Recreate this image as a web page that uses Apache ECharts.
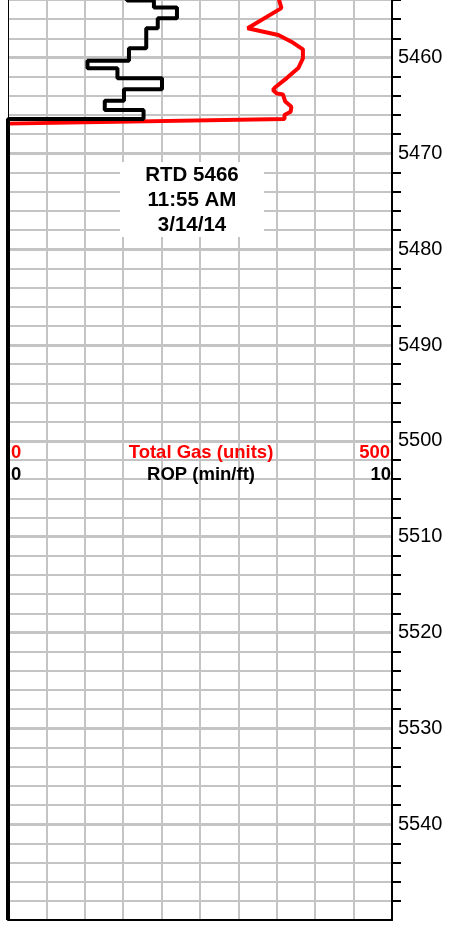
<!DOCTYPE html>
<html><head><meta charset="utf-8">
<script src="https://cdn.jsdelivr.net/npm/echarts@6/dist/echarts.min.js"></script>
<style>html,body{margin:0;padding:0;background:#fff}#c{width:456px;height:925px}</style>
</head><body><div id="c"></div>
<script>
// Depth axis extent (the log continues above the visible crop at 5454 ft)
const depthMin = 5450;
const depthMax = 5550;
const depthMajor = 10;

// ROP (min/ft): top depth of each interval and its value
const ropTop = [5453.0, 5454.05, 5454.77, 5455.9, 5456.96, 5459.04, 5460.33, 5461.13, 5462.17, 5463.32, 5464.5, 5465.48, 5466.42];
const ropVal = [3.1, 3.8, 4.4, 3.9, 3.6, 3.15, 2.07, 2.85, 4.01, 3.02, 2.52, 3.53, 0];

// Total gas (units)
const gasDepth = [5453.5, 5454.0, 5454.85, 5456.95, 5457.65, 5458.35, 5459.15, 5460.1, 5461.1, 5462.15, 5463.1, 5463.4, 5463.75, 5463.85, 5464.6, 5465.15, 5465.65, 5466.0, 5466.42, 5466.9, 5550];
const gasVal   = [350, 353, 356, 312, 352, 369, 384, 384, 378, 363, 348, 345, 350, 358, 361, 369, 368, 360, 360, 0, 0];

const ropRange = [0, 10];
const gasRange = [0, 500];
const rtdLines = ['RTD 5466', '11:55 AM', '3/14/14'];
const gasLabels = ['0', 'Total Gas (units)', '500'];
const ropLabels = ['0', 'ROP (min/ft)', '10'];

// step vertices for ROP
const ropData = [];
ropTop.forEach((d, i) => {
  const next = i + 1 < ropTop.length ? ropTop[i + 1] : depthMax;
  ropData.push([ropVal[i], d]);
  ropData.push([ropVal[i], next]);
});
const gasData = gasVal.map((g, i) => [g, gasDepth[i]]);

const FONT = '"Liberation Sans", Arial, Helvetica, sans-serif';
const chart = echarts.init(document.getElementById('c'), null, {renderer: 'canvas'});
const pxPerFt = 920 / (depthMax - 5454);
const gridTop = -(5454 - depthMin) * pxPerFt;
const gridH = (depthMax - depthMin) * pxPerFt;
const GRID = '#c4c4c4';
const LBL = 'bold 18.5px ' + FONT;

chart.setOption({
  animation: false,
  backgroundColor: '#fff',
  grid: {left: 8, width: 384, top: gridTop, height: gridH, containLabel: false, outerBoundsMode: 'none'},
  xAxis: [
    {type: 'value', min: ropRange[0], max: ropRange[1], interval: 1, position: 'bottom',
     axisLine: {show: true, onZero: false, lineStyle: {color: '#000', width: 2}},
     axisTick: {show: false}, axisLabel: {show: false},
     splitLine: {show: true, showMinLine: false, showMaxLine: false, lineStyle: {color: GRID, width: 2}}},
    {type: 'value', min: gasRange[0], max: gasRange[1], show: false,
     splitLine: {show: false}}
  ],
  yAxis: [
    {type: 'value', inverse: true, min: depthMin, max: depthMax, interval: depthMajor, position: 'right',
     axisLine: {show: true, onZero: false, lineStyle: {color: '#000', width: 2}},
     axisTick: {show: false},
     minorTick: {show: true, splitNumber: 5, length: 9, lineStyle: {color: '#000', width: 2}},
     axisLabel: {show: true, color: '#000', fontSize: 20, fontFamily: FONT, margin: 6, showMinLabel: false, showMaxLabel: false,
       formatter: v => String(v)},
     splitLine: {show: true, showMinLine: false, showMaxLine: false, lineStyle: {color: GRID, width: 3}},
     minorSplitLine: {show: true, lineStyle: {color: GRID, width: 2}}},
    {type: 'value', inverse: true, min: depthMin, max: depthMax, position: 'left',
     axisLine: {show: true, onZero: false, lineStyle: {color: '#000', width: 1}},
     axisTick: {show: false}, axisLabel: {show: false}, splitLine: {show: false}}
  ],
  series: [
    {type: 'line', name: 'Total Gas', xAxisIndex: 1, yAxisIndex: 0, data: gasData,
     showSymbol: false, symbol: 'none', z: 3,
     lineStyle: {color: '#ff0000', width: 4}},
    {type: 'line', name: 'ROP', xAxisIndex: 0, yAxisIndex: 0, data: ropData,
     showSymbol: false, symbol: 'none', z: 4,
     lineStyle: {color: '#000', width: 4}}
  ],
  graphic: [
    {type: 'rect', z: 10, shape: {x: 120, y: 162, width: 144, height: 75}, style: {fill: '#fff'}},
    {type: 'text', z: 11, style: {text: rtdLines.join('\n'), x: 192, y: 200, align: 'center', verticalAlign: 'middle',
      font: 'bold 20.5px ' + FONT, lineHeight: 25, fill: '#000'}},
    {type: 'text', z: 11, style: {text: gasLabels[0], x: 11, y: 452.5, align: 'left', verticalAlign: 'middle', font: LBL, fill: '#ff0000'}},
    {type: 'text', z: 11, style: {text: gasLabels[1], x: 201, y: 452.5, align: 'center', verticalAlign: 'middle', font: LBL, fill: '#ff0000'}},
    {type: 'text', z: 11, style: {text: gasLabels[2], x: 390, y: 452.5, align: 'right', verticalAlign: 'middle', font: LBL, fill: '#ff0000'}},
    {type: 'text', z: 11, style: {text: ropLabels[0], x: 11, y: 475, align: 'left', verticalAlign: 'middle', font: LBL, fill: '#000'}},
    {type: 'text', z: 11, style: {text: ropLabels[1], x: 201, y: 475, align: 'center', verticalAlign: 'middle', font: LBL, fill: '#000'}},
    {type: 'text', z: 11, style: {text: ropLabels[2], x: 391, y: 475, align: 'right', verticalAlign: 'middle', font: LBL, fill: '#000'}}
  ]
});
</script></body></html>
